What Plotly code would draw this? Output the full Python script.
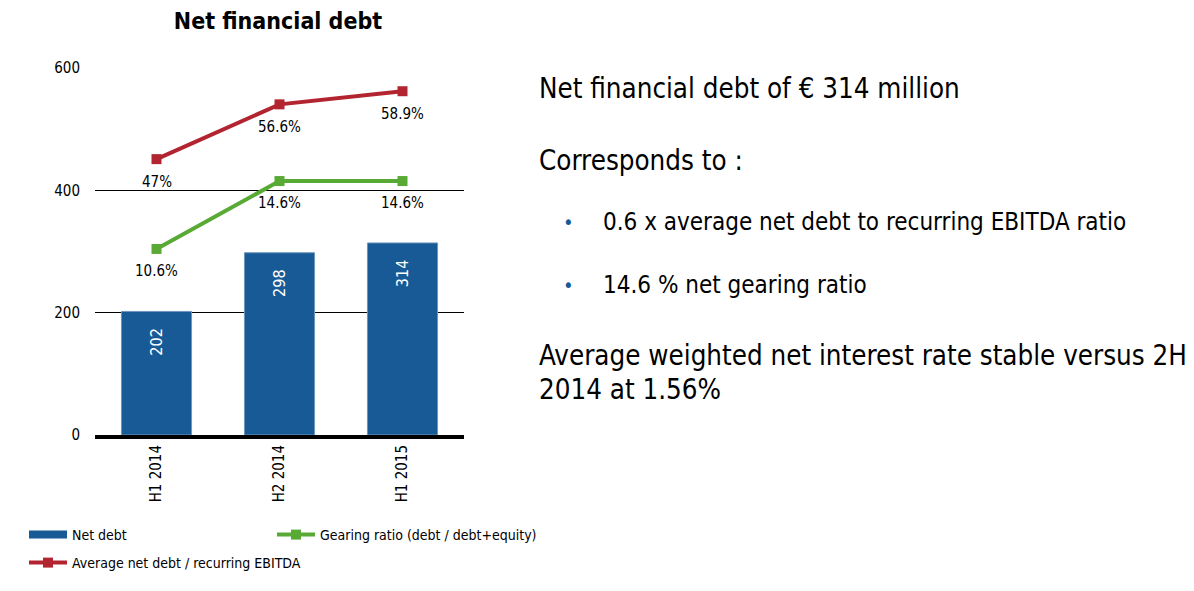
import plotly.graph_objects as go

# ─── DATA ────────────────────────────────────────────────────
periods = ["H1 2014", "H2 2014", "H1 2015"]
net_debt = [202, 298, 314]
gearing = [0.106, 0.146, 0.146]          # gearing ratio (debt / debt+equity)
avg_debt_ebitda = [0.47, 0.566, 0.589]   # average net debt / recurring EBITDA
y_ticks = [0, 200, 400, 600]

# ─── PALETTE ────────────────────────────────────────────────
BLUE = "#175a96"
RED = "#b22430"
GREEN = "#58aa34"
BLACK = "#000000"
FONT = "DejaVu Sans Condensed, DejaVu Sans, sans-serif"

# page body adds an 8px margin; plot area in page pixels
W, H, OFF = 1186, 583, 8
PX0, PX1, PY0, PY1 = 95, 464, 68, 435   # plot area (left, right, top, bottom)


def px(x):
    return (x - PX0) / (PX1 - PX0)


def py(y):
    return (PY1 - y) / (PY1 - PY0)


fig = go.Figure()

fig.add_trace(go.Bar(
    x=periods, y=net_debt, width=0.57,
    marker=dict(color=BLUE, line=dict(color="#6f95bd", width=1)),
    text=[f"{v}\u00a0\u00a0\u00a0" for v in net_debt],
    textposition="inside", insidetextanchor="end", textangle=-90,
    textfont=dict(color="white", size=16, family=FONT),
    showlegend=False, hoverinfo="skip",
))

# legend stand-in for the bar (wide rectangle swatch)
fig.add_trace(go.Scatter(
    x=[None], y=[None], mode="lines", name="Net debt",
    line=dict(color=BLUE, width=8), legend="legend",
))

fig.add_trace(go.Scatter(
    x=periods, y=gearing, yaxis="y3", mode="lines+markers",
    line=dict(color=GREEN, width=4),
    marker=dict(color=GREEN, size=10, symbol="square"),
    name="Gearing ratio (debt / debt+equity)", legend="legend3",
))

fig.add_trace(go.Scatter(
    x=periods, y=avg_debt_ebitda, yaxis="y2", mode="lines+markers",
    line=dict(color=RED, width=4),
    marker=dict(color=RED, size=10, symbol="square"),
    name="Average net debt / recurring EBITDA", legend="legend2",
))

# point labels below the markers
annotations = []
for p, v in zip(periods, avg_debt_ebitda):
    annotations.append(dict(
        x=p, y=v, xref="x", yref="y2", yshift=-23,
        text=f"{v * 100:.1f}%".replace(".0%", "%"), showarrow=False,
        font=dict(size=15, color=BLACK, family=FONT),
    ))
for p, v in zip(periods, gearing):
    annotations.append(dict(
        x=p, y=v, xref="x", yref="y3", yshift=-22,
        text=f"{v * 100:.1f}%", showarrow=False,
        font=dict(size=15, color=BLACK, family=FONT),
    ))

# right-hand commentary
big = dict(size=27.5, color=BLACK, family=FONT)
mid = dict(size=24, color=BLACK, family=FONT)
right_text = [
    (537, 88, "Net financial debt of € 314 million", big),
    (537, 160, "Corresponds to :", big),
    (601, 222, "0.6 x average net debt to recurring EBITDA ratio", mid),
    (601, 285, "14.6 % net gearing ratio", mid),
    (537, 355, "Average weighted net interest rate stable versus 2H", big),
    (537, 389, "2014 at 1.56%", big),
]
for x, y, t, f in right_text:
    annotations.append(dict(
        x=px(x), y=py(y), xref="paper", yref="paper",
        xanchor="left", yanchor="middle", text=t, showarrow=False, font=f,
    ))
for y in (222, 285):
    annotations.append(dict(
        x=px(568), y=py(y), xref="paper", yref="paper",
        xanchor="center", yanchor="middle", text="•", showarrow=False,
        font=dict(size=20, color=BLUE, family=FONT),
    ))

legend_style = dict(orientation="h", xanchor="left", yanchor="top", itemwidth=38,
                    font=dict(size=14, color=BLACK), bgcolor="rgba(0,0,0,0)")

fig.update_layout(
    width=W, height=H,
    paper_bgcolor="white", plot_bgcolor="white",
    font=dict(family=FONT, color=BLACK, size=14),
    margin=dict(l=PX0 - OFF, r=W - (PX1 - OFF), t=PY0 - OFF, b=H - (PY1 - OFF),
                autoexpand=False),
    title=dict(text="<b>Net financial debt</b>", x=(278 - OFF) / W,
               xanchor="center", y=1 - (21 - OFF) / H, yanchor="middle",
               font=dict(size=23, color=BLACK, family=FONT)),
    xaxis=dict(showgrid=False, showline=True, linecolor=BLACK, linewidth=4,
               tickangle=-90, tickfont=dict(size=15, color=BLACK), ticks="",
               range=[-0.5, 2.5]),
    yaxis=dict(range=[0, 600], tickvals=y_ticks, showgrid=True, gridcolor=BLACK,
               gridwidth=1, zeroline=False, showline=False, ticks="",
               ticklabelstandoff=14, tickfont=dict(size=15, color=BLACK)),
    yaxis2=dict(overlaying="y", range=[-0.0134, 0.6297], visible=False),
    yaxis3=dict(overlaying="y", range=[-0.0036, 0.2126], visible=False),
    legend=dict(x=px(24), y=py(519), **legend_style),
    legend3=dict(x=px(272), y=py(519), **legend_style),
    legend2=dict(x=px(24), y=py(547), **legend_style),
    annotations=annotations,
    bargap=0.43,
)

fig.write_html("out.html")
